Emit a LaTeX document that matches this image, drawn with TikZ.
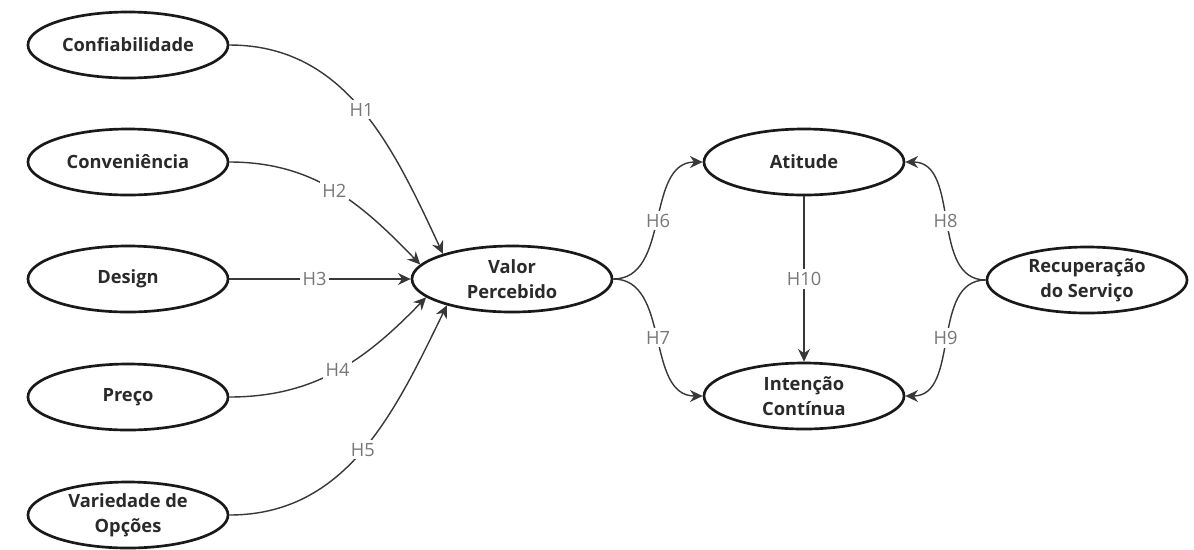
\documentclass[tikz,border=0pt]{standalone}
\usepackage{fontspec}
\setmainfont{Open Sans}
\usetikzlibrary{shapes.geometric,arrows.meta}

\definecolor{edgegray}{HTML}{383838}
\definecolor{labelgray}{HTML}{777777}
\definecolor{textgray}{HTML}{2A2A2A}

\tikzset{
  construct/.style={ellipse, draw=black!90, line width=1.9pt,
    minimum width=5cm, minimum height=1.65cm, inner sep=0pt, align=center,
    font=\bfseries\fontsize{13}{17.5}\selectfont, text=textgray},
  link/.style={draw=edgegray, line width=1pt, -{Stealth[length=9pt,width=8.5pt]}},
  hyp/.style={fill=white, inner sep=2pt, text=labelgray,
    font=\fontsize{13}{15}\selectfont},
}

\begin{document}
\begin{tikzpicture}[x=0.025cm, y=0.025cm]
    \useasboundingbox[fill=white] (0,0) rectangle (1194,-549);

    % Antecedents
    \node[construct] (conf) at (128,-45) {Confiabilidade};
    \node[construct] (conv) at (128,-162) {Conveniência};
    \node[construct] (design) at (128,-279) {Design};
    \node[construct] (preco) at (128,-397) {Preço};
    \node[construct] (variedade) at (128,-515) {Variedade de\\Opções};

    % Mediator and outcomes
    \node[construct] (valor) at (512,-279) {Valor\\Percebido};
    \node[construct] (atitude) at (804,-162) {Atitude};
    \node[construct] (intencao) at (804,-396) {Intenção\\Contínua};
    \node[construct] (recup) at (1087,-280) {Recuperação\\do Serviço};

    % Hypotheses H1-H5
    \draw[link] (conf.east) to[out=0,in=115] node[hyp,pos=0.5] {H1} (valor.160);
    \draw[link] (conv.east) to[out=0,in=134] node[hyp,pos=0.5] {H2} (valor.171);
    \draw[link] (design.east) -- node[hyp,pos=0.47] {H3} (valor.west);
    \draw[link] (preco.east) to[out=0,in=-134] node[hyp,pos=0.5] {H4} (valor.192);
    \draw[link] (variedade.east) to[out=0,in=-116] node[hyp,pos=0.5] {H5} (valor.202);

    % Hypotheses H6-H10
    \draw[link] (valor.east) to[out=0,in=180] node[hyp] {H6} (atitude.west);
    \draw[link] (valor.east) to[out=0,in=180] node[hyp] {H7} (intencao.west);
    \draw[link] (recup.west) to[out=180,in=0] node[hyp] {H8} (atitude.east);
    \draw[link] (recup.west) to[out=180,in=0] node[hyp] {H9} (intencao.east);
    \draw[link] (atitude.south) -- node[hyp] {H10} (intencao.north);
\end{tikzpicture}
\end{document}
